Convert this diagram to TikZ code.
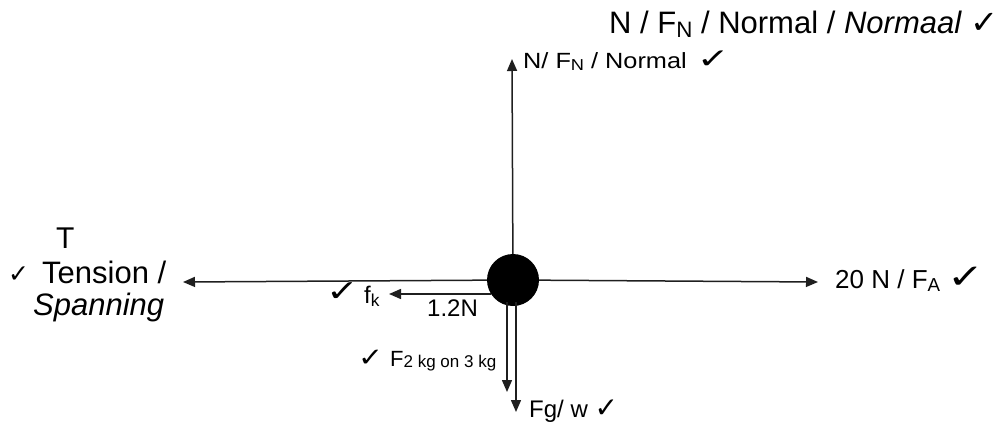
\documentclass[tikz,border=0pt]{standalone}
\usepackage{fontspec}
\setmainfont{Liberation Sans}
\newfontfamily\symfont{DejaVu Sans}
\usetikzlibrary{arrows.meta}
\newcommand{\ckk}[2]{{\fontsize{#1}{#1}\symfont\scalebox{#2}[1]{✓}}}
\newcommand{\sbs}[1]{\raisebox{-0.25ex}{\scalebox{0.72}{#1}}}
\newcommand{\fs}[1]{\fontsize{#1}{#1}\selectfont}
\begin{document}
\begin{tikzpicture}[x=1pt,y=-1pt,
  arr/.style={draw=black!88, line width=1.5pt, -{Triangle[length=12pt,width=10pt]}},
  lbl/.style={inner sep=0pt}]
\useasboundingbox (0,0) rectangle (1004,423);
\node[circle, fill=black, minimum size=52pt, inner sep=0pt] (ball) at (513,280) {};
\coordinate (tT) at (183,282);
\coordinate (tA) at (818,282);
\coordinate (tN) at (512,59);
\coordinate (fk0) at (491,294);
\coordinate (tk) at (389,294);
\coordinate (d1) at (507,302);
\coordinate (t1) at (507,392);
\coordinate (d2) at (516,302);
\coordinate (t2) at (516,412);
\draw[arr] (ball) -- (tT);
\draw[arr] (ball) -- (tA);
\draw[arr] (ball) -- (tN);
\draw[arr] (fk0) -- (tk);
\draw[arr] (d1) -- (t1);
\draw[arr] (d2) -- (t2);
% labels
\node[lbl, font=\fs{31}, anchor=base west] (ltop) at (609,33) {N / F\sbs{N} / Normal / \textit{Normaal} \ckk{32}{1.05}};
\node[lbl, font=\fs{22}, anchor=base west] (lN) at (523,68) {\scalebox{1.15}[1]{N/ F\sbs{N} / Normal}\hspace{10pt}\ckk{28}{1.4}};
\node[lbl, font=\fs{26}, anchor=base west] (lA) at (835,288) {20 N / F\sbs{A} \ckk{34}{1.3}};
\node[lbl, font=\fs{30}, anchor=base west] (lT1) at (56,248) {T};
\node[lbl, anchor=base west] (lT0) at (8,282) {\ckk{25}{1}};
\node[lbl, font=\fs{31}, anchor=base west] (lT2) at (42,283) {Tension /};
\node[lbl, font=\fs{31}, anchor=base west] (lT3) at (33,315) {\textit{Spanning}};
\node[lbl, anchor=base east] (lk0) at (359,301) {\ckk{30}{1.3}};
\node[lbl, font=\fs{24}, anchor=base west] (lk) at (364,303) {f\sbs{k}};
\node[lbl, font=\fs{24}, anchor=base west] (l12) at (427,316) {1.2N};
\node[lbl, anchor=base west] (lck) at (358,366) {\ckk{26}{1.15}};
\node[lbl, font=\fs{22}, anchor=base west] (lF2) at (390,366) {F{\fs{17}\raisebox{-0.12ex}{2 kg on 3 kg}}};
\node[lbl, font=\fs{24}, anchor=base west] (lg) at (529,417) {Fg/ w \ckk{28}{1}};
\end{tikzpicture}
\end{document}
